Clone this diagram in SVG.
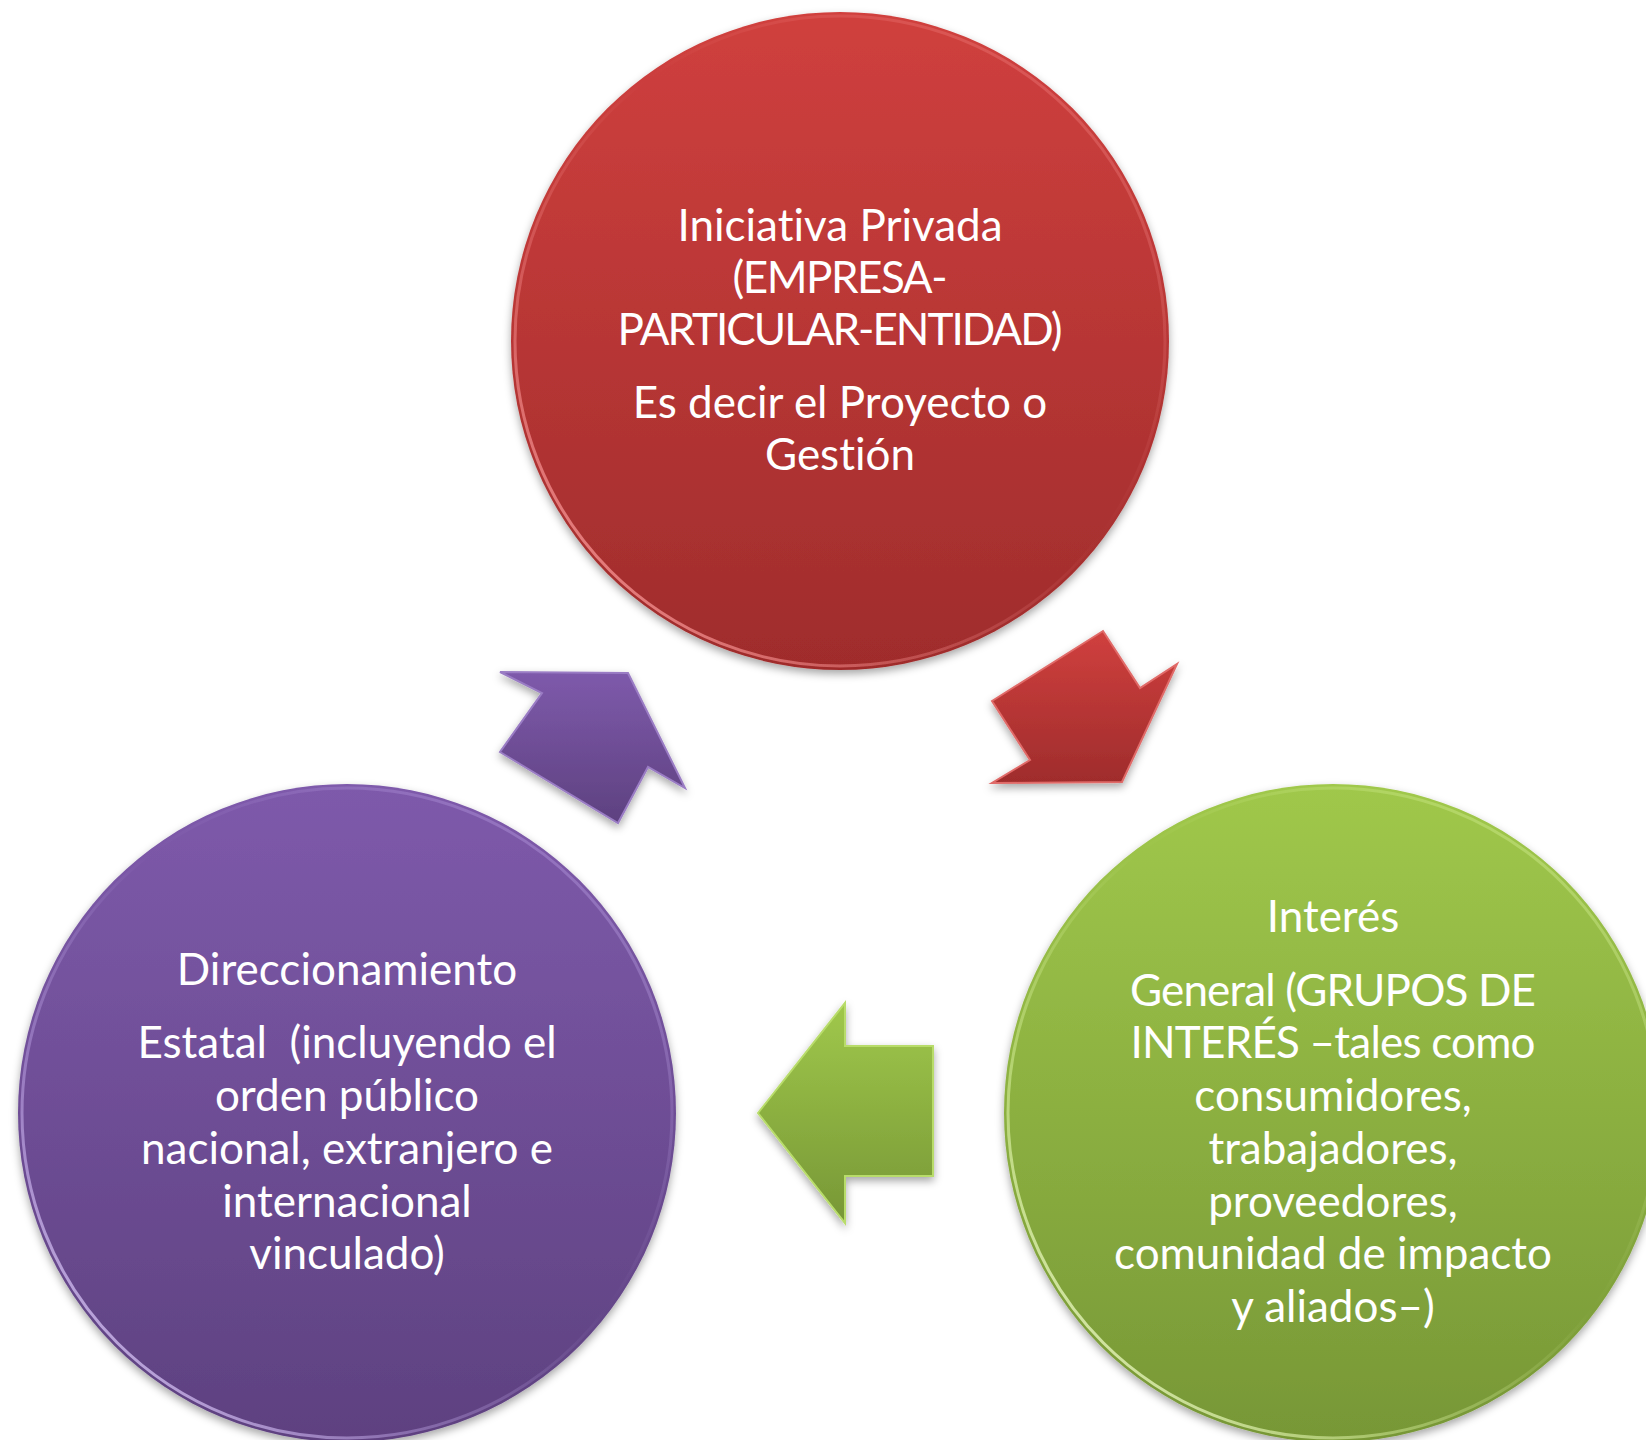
<svg xmlns="http://www.w3.org/2000/svg" width="1646" height="1440" viewBox="0 0 1646 1440">
<defs>
<style>
.lbl{font-family:Lato,"Open Sans","Liberation Sans",sans-serif;font-size:44px;fill:#ffffff;text-anchor:middle;font-variant-ligatures:none;font-feature-settings:"liga" 0,"clig" 0}
.rim{fill:none;stroke-width:3}
</style>
<filter id="shadow" x="-10%" y="-10%" width="120%" height="125%">
<feDropShadow dx="0" dy="4" stdDeviation="4" flood-color="#000" flood-opacity="0.35"/>
</filter>
<linearGradient id="gRed" x1="0" y1="0" x2="0" y2="1">
<stop offset="0" stop-color="#d0403e"/>
<stop offset="1" stop-color="#9f2c2c"/>
</linearGradient>
<linearGradient id="gPurple" x1="0" y1="0" x2="0" y2="1">
<stop offset="0" stop-color="#7e5aab"/>
<stop offset="1" stop-color="#5e4180"/>
</linearGradient>
<linearGradient id="gGreen" x1="0" y1="0" x2="0" y2="1">
<stop offset="0" stop-color="#a0c84b"/>
<stop offset="1" stop-color="#779736"/>
</linearGradient>
<linearGradient id="rRed" x1="0" y1="1" x2="1" y2="0">
<stop offset="0" stop-color="#ffa0a0" stop-opacity="1"/>
<stop offset="0.3" stop-color="#ff9a9a" stop-opacity="0.35"/>
<stop offset="0.55" stop-color="#ff9a9a" stop-opacity="0"/>
<stop offset="1" stop-color="#ff9a9a" stop-opacity="0.4"/>
</linearGradient>
<linearGradient id="rPurple" x1="0" y1="1" x2="1" y2="0">
<stop offset="0" stop-color="#eadaff" stop-opacity="1"/>
<stop offset="0.3" stop-color="#d6bfff" stop-opacity="0.35"/>
<stop offset="0.55" stop-color="#d6bfff" stop-opacity="0"/>
<stop offset="1" stop-color="#d6bfff" stop-opacity="0.4"/>
</linearGradient>
<linearGradient id="rGreen" x1="0" y1="1" x2="1" y2="0">
<stop offset="0" stop-color="#faffe0" stop-opacity="1"/>
<stop offset="0.3" stop-color="#e8ffb0" stop-opacity="0.4"/>
<stop offset="0.55" stop-color="#e8ffb0" stop-opacity="0"/>
<stop offset="1" stop-color="#e8ffb0" stop-opacity="0.45"/>
</linearGradient>
</defs>
<rect width="1646" height="1440" fill="#ffffff"/>

<g id="connectors">
<polygon id="arrow-red" points="992,701 1103,631 1140,688 1177,664 1122,782 992,783 1030,760" fill="url(#gRed)" stroke="#e06a68" stroke-width="2" stroke-linejoin="miter" filter="url(#shadow)"/>
<polygon id="arrow-green" points="758,1113 845,1003 845,1046 933,1046 933,1176 845,1176 845,1223" fill="url(#gGreen)" stroke="#b8dc6a" stroke-width="2" filter="url(#shadow)"/>
<polygon id="arrow-purple" points="500,672 628,673 685,788 648,767 618,823 500,752 542,693" fill="url(#gPurple)" stroke="#9a7cc4" stroke-width="2" filter="url(#shadow)"/>
</g>

<g id="node-iniciativa">
<circle cx="840" cy="341" r="329" fill="url(#gRed)" filter="url(#shadow)"/>
<circle cx="840" cy="341" r="325" class="rim" stroke="url(#rRed)"/>
<text class="lbl" x="840" y="241">Iniciativa Privada</text>
<text class="lbl" x="840" y="293" textLength="215" lengthAdjust="spacing">(EMPRESA-</text>
<text class="lbl" x="840" y="345" textLength="445" lengthAdjust="spacing">PARTICULAR-ENTIDAD)</text>
<text class="lbl" x="840" y="418">Es decir el Proyecto o</text>
<text class="lbl" x="840" y="470">Gestión</text>
</g>

<g id="node-interes">
<circle cx="1333" cy="1113" r="329" fill="url(#gGreen)" filter="url(#shadow)"/>
<circle cx="1333" cy="1113" r="325" class="rim" stroke="url(#rGreen)"/>
<text class="lbl" x="1333" y="932">Interés</text>
<text class="lbl" x="1333" y="1006" textLength="406" lengthAdjust="spacing">General (GRUPOS DE</text>
<text class="lbl" x="1333" y="1058" textLength="405" lengthAdjust="spacing">INTERÉS –tales como</text>
<text class="lbl" x="1333" y="1111">consumidores,</text>
<text class="lbl" x="1333" y="1164">trabajadores,</text>
<text class="lbl" x="1333" y="1217">proveedores,</text>
<text class="lbl" x="1333" y="1269">comunidad de impacto</text>
<text class="lbl" x="1333" y="1322">y aliados–)</text>
</g>

<g id="node-direccionamiento">
<circle cx="347" cy="1113" r="329" fill="url(#gPurple)" filter="url(#shadow)"/>
<circle cx="347" cy="1113" r="325" class="rim" stroke="url(#rPurple)"/>
<text class="lbl" x="347" y="985">Direccionamiento</text>
<text class="lbl" x="347" y="1058">Estatal&#160; (incluyendo el</text>
<text class="lbl" x="347" y="1111">orden público</text>
<text class="lbl" x="347" y="1164">nacional, extranjero e</text>
<text class="lbl" x="347" y="1217">internacional</text>
<text class="lbl" x="347" y="1269">vinculado)</text>
</g>
</svg>
